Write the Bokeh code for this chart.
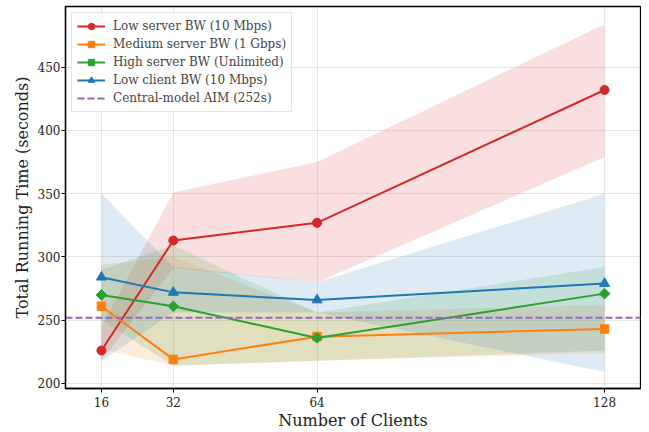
import math
from bokeh.plotting import figure
from bokeh.models import Range1d, FixedTicker, Legend, LegendItem, ColumnDataSource
from bokeh.embed import file_html
from bokeh.resources import INLINE

clients = [16, 32, 64, 128]

low_server = [226, 313, 327, 432]
low_server_lo = [218, 291, 280, 379]
low_server_hi = [245, 351, 375, 484]

medium_server = [261, 219, 237, 243]
medium_server_lo = [227, 214, 218, 224]
medium_server_hi = [294, 300, 256, 262]

high_server = [270, 261, 236, 271]
high_server_lo = [250, 214, 218, 226]
high_server_hi = [290, 309, 256, 292]

low_client = [284, 272, 266, 279]
low_client_lo = [218, 256, 256, 209]
low_client_hi = [350, 292, 280, 350]

central_aim = 252

labels = ["Low server BW (10 Mbps)", "Medium server BW (1 Gbps)",
          "High server BW (Unlimited)", "Low client BW (10 Mbps)",
          "Central-model AIM (252s)"]
y_ticks = [200, 250, 300, 350, 400, 450]
x_start, x_end = 8, 136
y_start, y_end = 196, 498

FONT = "DejaVu Serif"
LEGEND_FONT = "'DejaVu Serif'"

p = figure(frame_width=575, frame_height=382, output_backend="svg", toolbar_location=None,
           x_range=Range1d(x_start, x_end), y_range=Range1d(y_start, y_end),
           min_border_left=65, min_border_right=1, min_border_top=6, min_border_bottom=40)

p.outline_line_color = "black"
p.outline_line_width = 1.3
p.outline_line_alpha = 1

series = [
    (low_server, low_server_lo, low_server_hi, "#d62728", "circle", 9, 0),
    (medium_server, medium_server_lo, medium_server_hi, "#ff7f0e", "square", 8.5, 0),
    (high_server, high_server_lo, high_server_hi, "#2ca02c", "square", 7.5, math.pi / 4),
    (low_client, low_client_lo, low_client_hi, "#1f77b4", "triangle", 10, 0),
]

for ys, lo, hi, c, m, s, a in series:
    p.varea(x=clients, y1=lo, y2=hi, fill_color=c, fill_alpha=0.15)

items = []
for (ys, lo, hi, c, m, s, a), lab in zip(series, labels):
    lr = p.line(clients, ys, line_color=c, line_width=2)
    src = ColumnDataSource(dict(x=clients, y=ys, ang=[a] * len(clients)))
    sr = p.scatter("x", "y", source=src, marker=m, size=s, angle="ang",
                   fill_color=c, line_color=c)
    items.append(LegendItem(label=lab, renderers=[lr, sr]))

aim = p.line(x=[x_start, x_end], y=[central_aim, central_aim], line_color="#9467bd",
             line_width=2, line_dash="7 3")
items.append(LegendItem(label=labels[4], renderers=[aim]))

legend = Legend(items=items, location="top_left")
legend.label_text_font = LEGEND_FONT
legend.label_text_font_size = "12px"
legend.glyph_width = 28
legend.glyph_height = 16
legend.label_height = 16
legend.spacing = 2
legend.padding = 5
legend.margin = 6
legend.border_line_color = "#cccccc"
legend.border_line_width = 1
legend.background_fill_alpha = 0.8
legend.label_standoff = 8
p.add_layout(legend)

p.xaxis.ticker = FixedTicker(ticks=clients)
p.yaxis.ticker = FixedTicker(ticks=y_ticks)
for ax in (p.xaxis, p.yaxis):
    ax.axis_line_color = "black"
    ax.axis_line_width = 1.3
    ax.major_tick_line_color = "black"
    ax.major_tick_out = 4
    ax.major_tick_in = 0
    ax.minor_tick_line_color = None
    ax.major_label_text_font = FONT
    ax.major_label_text_font_size = "12px"
    ax.major_label_text_color = "#222222"
    ax.axis_label_text_font = FONT
    ax.axis_label_text_font_size = "16px"
    ax.axis_label_text_font_style = "normal"
    ax.axis_label_text_color = "#222222"
p.xaxis.major_label_standoff = 4
p.xaxis.axis_label_standoff = 1
p.yaxis.major_label_standoff = 1
p.yaxis.axis_label_standoff = 3
p.xaxis.axis_label = "Number of Clients"
p.yaxis.axis_label = "Total Running Time (seconds)"

p.xgrid.ticker = FixedTicker(ticks=clients)
p.ygrid.ticker = FixedTicker(ticks=y_ticks)
p.grid.grid_line_color = "#b0b0b0"
p.grid.grid_line_alpha = 0.3
p.grid.grid_line_width = 1

open("out.html", "w").write(file_html(p, INLINE))
